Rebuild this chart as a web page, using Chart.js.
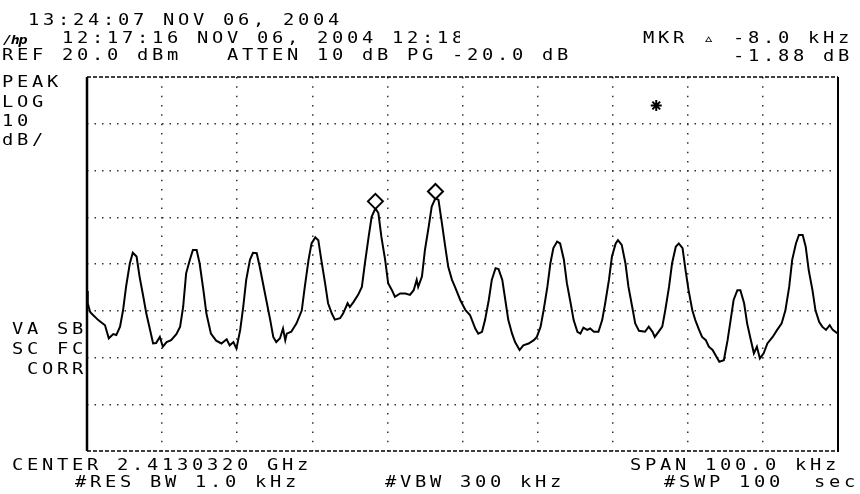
<!DOCTYPE html>
<html>
<head>
<meta charset="utf-8">
<title>Spectrum analyzer trace</title>
<script src="https://cdn.jsdelivr.net/npm/chart.js@4.4.1/dist/chart.umd.min.js"></script>
<style>
  html, body { margin: 0; padding: 0; background: #fff; }
  #wrap { position: relative; width: 860px; height: 494px; overflow: hidden; }
  #wrap canvas { position: absolute; left: 0; top: 0; }
  /* HP screen font: fixed 15px character pitch */
  .t { position: absolute; white-space: pre; color: #000;
       font: 15px/15px "DejaVu Sans Mono", "Liberation Mono", monospace;
       letter-spacing: 2.97px; transform: scaleX(1.25); transform-origin: 0 0; }
  .clip { position: absolute; overflow: hidden; height: 18px; }
  .logo { font-style: italic; font-weight: bold; font-size: 12px; letter-spacing: -1px; }
</style>
</head>
<body>
<div id="wrap">
  <canvas id="chart-sa"></canvas>

  <div class="t" style="left:28px;top:13px">13:24:07 NOV 06, 2004</div>
  <div class="t logo" style="left:3px;top:33px">/hp</div>
  <div class="clip" style="left:62px;top:31px;width:398px"><div class="t" style="left:0;top:0">12:17:16 NOV 06, 2004 12:18</div></div>
  <div class="t" style="left:2px;top:48px">REF 20.0 dBm   ATTEN 10 dB PG -20.0 dB</div>
  <div class="t" style="left:643px;top:31px">MKR ▵ -8.0 kHz</div>
  <div class="t" style="left:733px;top:49px">-1.88 dB</div>

  <div class="t" style="left:2px;top:75px">PEAK</div>
  <div class="t" style="left:2px;top:95px">LOG</div>
  <div class="t" style="left:2px;top:114px">10</div>
  <div class="t" style="left:2px;top:133px">dB/</div>

  <div class="t" style="left:12px;top:322px">VA SB</div>
  <div class="t" style="left:12px;top:342px">SC FC</div>
  <div class="t" style="left:27px;top:362px">CORR</div>

  <div class="t" style="left:12px;top:458px">CENTER 2.4130320 GHz</div>
  <div class="t" style="left:630px;top:458px">SPAN 100.0 kHz</div>
  <div class="t" style="left:75px;top:475px">#RES BW 1.0 kHz</div>
  <div class="t" style="left:385px;top:475px">#VBW 300 kHz</div>
  <div class="t" style="left:664px;top:475px">#SWP 100  sec</div>
</div>

<script>
// screen scale: span 100 kHz around centre, ref level 20 dBm, 10 dB/div, 8 divs
const SPAN_KHZ = 100;
const REF_DBM = 20;
const DB_PER_DIV = 10;
const Y_DIVS = 8;

// trace (offset from centre in kHz, level in dBm)
const freqKHz = [
  -50.0, -49.9, -49.6, -49.4, -48.5, -47.6, -47.1, -46.5, -46.1, -45.6,
  -45.2, -44.8, -44.3, -43.9, -43.4, -43.0, -42.5, -42.1, -41.6, -41.2,
  -40.8, -40.3, -39.9, -39.4, -38.8, -38.1, -37.6, -37.2, -36.8, -36.3,
  -35.9, -35.4, -35.0, -34.5, -34.1, -33.5, -32.8, -32.1, -31.4, -31.0,
  -30.5, -30.1, -29.6, -29.2, -28.8, -28.3, -27.9, -27.4, -27.0, -26.3,
  -25.6, -25.2, -24.8, -24.3, -23.9, -23.6, -23.4, -22.8, -22.1, -21.4,
  -21.0, -20.5, -20.1, -19.6, -19.2, -18.8, -18.3, -17.9, -17.4, -17.0,
  -16.3, -15.9, -15.3, -15.0, -14.5, -13.9, -13.4, -13.0, -12.5, -12.1,
  -11.6, -11.2, -10.8, -10.3, -9.9, -9.4, -9.0, -8.3, -7.6, -7.0,
  -6.5, -6.1, -5.9, -5.4, -5.0, -4.5, -4.1, -3.6, -3.2, -2.8,
  -2.3, -1.9, -1.4, -1.0, -0.3, 0.4, 1.0, 1.7, 2.1, 2.6,
  3.0, 3.5, 3.9, 4.4, 4.8, 5.3, 5.7, 6.1, 6.6, 7.0,
  7.6, 8.1, 8.8, 9.5, 9.9, 10.4, 10.8, 11.3, 11.7, 12.1,
  12.6, 13.0, 13.5, 13.9, 14.4, 14.8, 15.3, 15.7, 16.1, 16.6,
  17.0, 17.5, 18.1, 18.6, 19.0, 19.5, 19.9, 20.4, 20.7, 21.2,
  21.7, 22.1, 22.6, 23.0, 23.5, 24.3, 24.8, 25.3, 25.6, 26.1,
  26.6, 27.0, 27.5, 27.9, 28.4, 28.8, 29.3, 29.7, 30.1, 30.6,
  31.0, 31.5, 31.9, 32.4, 32.8, 33.3, 33.7, 34.2, 34.8, 35.3,
  35.7, 36.1, 36.6, 37.0, 37.5, 37.9, 38.4, 38.8, 39.2, 39.6,
  40.1, 40.6, 41.3, 41.9, 42.5, 43.0, 43.5, 43.9, 44.4, 44.8,
  45.3, 45.7, 46.1, 46.6, 47.0, 47.5, 47.9, 48.4, 48.9, 49.3,
  50.0
];
const levelDbm = [
  -25.8, -28.4, -30.2, -30.6, -32.0, -33.1, -35.9, -35.0, -35.2, -33.4,
  -29.9, -24.9, -19.9, -17.6, -18.4, -22.7, -27.0, -30.6, -34.1, -37.0,
  -36.9, -35.6, -37.7, -36.7, -36.3, -35.0, -33.4, -29.2, -22.0, -19.1,
  -17.0, -17.0, -19.9, -25.6, -30.6, -34.9, -36.4, -37.0, -36.1, -37.4,
  -36.7, -38.1, -34.1, -29.2, -23.4, -19.1, -17.6, -17.7, -20.6, -26.3,
  -32.0, -35.6, -36.7, -35.9, -33.8, -36.3, -34.9, -34.5, -32.7, -29.9,
  -24.9, -19.1, -15.6, -14.3, -14.9, -19.1, -24.1, -28.4, -30.6, -31.9,
  -31.6, -30.6, -28.4, -29.2, -28.1, -26.6, -24.9, -19.9, -14.2, -9.9,
  -8.1, -9.1, -14.2, -19.1, -24.1, -25.6, -27.0, -26.3, -26.3, -26.6,
  -25.6, -23.4, -24.9, -22.7, -17.0, -12.0, -7.7, -5.9, -6.3, -10.6,
  -16.3, -20.6, -23.4, -24.9, -27.7, -29.9, -30.9, -33.8, -34.9, -34.5,
  -32.0, -27.7, -23.4, -20.9, -21.1, -23.4, -27.7, -32.0, -34.9, -36.7,
  -38.4, -37.4, -37.0, -36.3, -35.6, -33.4, -29.9, -24.9, -19.9, -16.6,
  -15.2, -15.6, -19.1, -24.1, -28.4, -32.0, -34.5, -34.9, -33.6, -34.1,
  -33.8, -34.5, -34.5, -32.0, -28.4, -23.4, -18.4, -15.6, -14.9, -15.9,
  -19.9, -24.9, -29.2, -32.7, -34.3, -34.5, -33.4, -34.5, -35.6, -34.5,
  -33.4, -29.9, -24.9, -19.9, -16.3, -15.6, -16.6, -21.3, -25.6, -29.9,
  -32.0, -34.1, -35.6, -36.3, -37.7, -38.4, -39.5, -40.9, -40.6, -36.3,
  -32.0, -27.7, -25.6, -25.6, -28.4, -32.7, -36.3, -39.1, -37.7, -40.2,
  -39.1, -37.0, -35.6, -34.1, -32.7, -29.9, -24.9, -19.1, -15.6, -13.8,
  -13.8, -16.3, -21.3, -25.6, -29.9, -32.4, -33.4, -34.1, -33.1, -34.1,
  -34.9
];

// diamond markers sitting on the two tallest peaks
const markerKHz = [-11.6, -3.6];
const markerDbm = [-6.6, -4.5];
// delta reference asterisk
const refMarkKHz = [25.8];
const refMarkDbm = [13.9];

function pts(xs, ys) { return xs.map(function (x, i) { return { x: x, y: ys[i] }; }); }

function isEdge(c) { return c.tick && (c.tick.value === c.scale.min || c.tick.value === c.scale.max); }

// screen frame: dashed top/bottom, solid left/right
const framePlugin = {
  id: "frame",
  beforeDatasetsDraw(chart) {
    const a = chart.chartArea, ctx = chart.ctx;
    ctx.save();
    ctx.strokeStyle = "#000";
    ctx.lineWidth = 1.4;
    ctx.setLineDash([4, 2]);
    ctx.beginPath();
    ctx.moveTo(a.left, a.top); ctx.lineTo(a.right, a.top);
    ctx.moveTo(a.left, a.bottom); ctx.lineTo(a.right, a.bottom);
    ctx.stroke();
    ctx.setLineDash([]);
    ctx.lineWidth = 2.5;
    ctx.beginPath(); ctx.moveTo(a.left, a.top); ctx.lineTo(a.left, a.bottom); ctx.stroke();
    ctx.lineWidth = 2;
    ctx.beginPath(); ctx.moveTo(a.right, a.top); ctx.lineTo(a.right, a.bottom + 1); ctx.stroke();
    ctx.restore();
  }
};

new Chart(document.getElementById("chart-sa"), {
  type: "scatter",
  data: { datasets: [
    { label: "trace", data: pts(freqKHz, levelDbm), showLine: true, borderColor: "#000", borderWidth: 2,
      pointRadius: 0, tension: 0, order: 2 },
    { label: "markers", data: pts(markerKHz, markerDbm), showLine: false, pointStyle: "rectRot",
      pointRadius: 7.5, pointBorderWidth: 2, pointBackgroundColor: "#fff", pointBorderColor: "#000", order: 0 },
    { label: "delta ref", data: pts(refMarkKHz, refMarkDbm), showLine: false, pointStyle: "star",
      pointRadius: 5.5, pointBorderWidth: 2, pointBorderColor: "#000", order: 0 },
  ] },
  options: {
    responsive: true, maintainAspectRatio: false, animation: false, events: [],
    layout: { padding: { left: 87, right: 22, top: 77, bottom: 43 } },
    plugins: { legend: { display: false }, tooltip: { enabled: false } },
    scales: {
      x: { type: "linear", min: -SPAN_KHZ / 2, max: SPAN_KHZ / 2,
        ticks: { display: false, stepSize: SPAN_KHZ / 10 },
        grid: { drawTicks: false, lineWidth: 1.5, color: function (c) { return isEdge(c) ? "rgba(0,0,0,0)" : "#333"; } },
        border: { display: false, dash: [1.5, 7.83] } },
      y: { type: "linear", min: REF_DBM - DB_PER_DIV * Y_DIVS, max: REF_DBM,
        ticks: { display: false, stepSize: DB_PER_DIV },
        grid: { drawTicks: false, lineWidth: 1.5, color: function (c) { return isEdge(c) ? "rgba(0,0,0,0)" : "#333"; } },
        border: { display: false, dash: [1.5, 6] } },
    },
  },
  plugins: [framePlugin],
});
</script>
</body>
</html>
